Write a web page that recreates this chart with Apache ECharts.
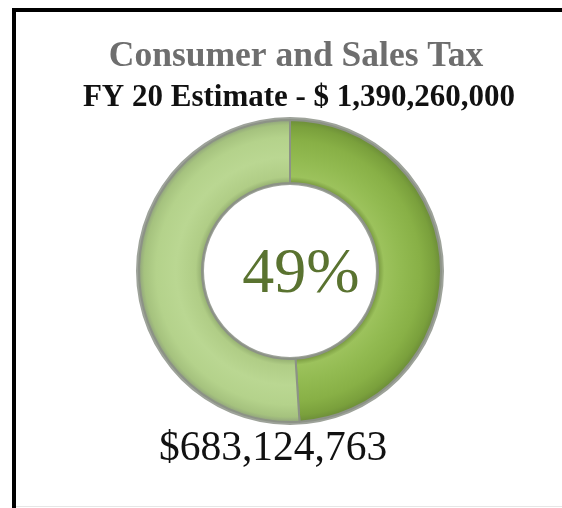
<!DOCTYPE html>
<html><head><meta charset="utf-8">
<script src="https://cdn.jsdelivr.net/npm/echarts@6/dist/echarts.min.js"></script>
<style>html,body{margin:0;padding:0;background:#fff}#c{width:562px;height:508px}</style>
</head><body><div id="c"></div>
<script>
const categories = ['Collected', 'Remaining'];
const shares = [49, 51];
const titleText = 'Consumer and Sales Tax';
const subtitleText = 'FY 20 Estimate - $ 1,390,260,000';
const centerText = '49%';
const amountText = '$683,124,763';

const cx = 290, cy = 271, rOut = 152, rIn = 88;
function ring(stops){
  return {type:'radial', x:cx, y:cy, r:rOut, global:true, colorStops:stops.map(s=>({offset:s[0], color:s[1]}))};
}
const darkFill = ring([[0,'#7d9f40'],[0.57,'#6f8f38'],[0.62,'#9cc25c'],[0.72,'#93bb52'],[0.86,'#88b046'],[0.95,'#7aa03c'],[1,'#6a8a38']]);
const lightFill = ring([[0,'#a5c37c'],[0.57,'#8ea86c'],[0.62,'#b0cd86'],[0.75,'#bad792'],[0.88,'#b4d28b'],[0.96,'#a5c27e'],[1,'#8d9e7c']]);

const chart = echarts.init(document.getElementById('c'), null, {renderer:'canvas'});
chart.setOption({
  animation:false,
  graphic:[
    {type:'rect', shape:{x:12,y:8,width:550,height:4}, style:{fill:'#000'}},
    {type:'rect', shape:{x:12,y:8,width:4,height:500}, style:{fill:'#000'}},
    {type:'rect', shape:{x:16,y:506,width:546,height:1}, style:{fill:'#e6e6e6'}},
    {type:'text', x:296, y:57, style:{text:titleText, font:'bold 35.5px "Liberation Serif"', fill:'#6e6e6e', align:'center', verticalAlign:'middle'}},
    {type:'text', x:299, y:98, style:{text:subtitleText, font:'bold 31px "Liberation Serif"', fill:'#111', align:'center', verticalAlign:'middle'}},
    {type:'text', x:301, y:275, style:{text:centerText, font:'64px "Liberation Serif"', fill:'#5a7330', align:'center', verticalAlign:'middle'}},
    {type:'text', x:273, y:449, style:{text:amountText, font:'41.5px "Liberation Serif"', fill:'#111', align:'center', verticalAlign:'middle'}}
  ],
  series:[
    {type:'pie', silent:true, center:[cx,cy], radius:[rIn-2, rOut+2], label:{show:false}, labelLine:{show:false},
     data:[{value:1, itemStyle:{color:'#9ea39a'}}]},
    {type:'pie', silent:true, center:[cx,cy], radius:[rIn, rOut-1], startAngle:90, clockwise:true,
     label:{show:false}, labelLine:{show:false},
     itemStyle:{borderColor:'#8c9286', borderWidth:2},
     data:[
       {name:categories[0], value:shares[0], itemStyle:{color:darkFill}},
       {name:categories[1], value:shares[1], itemStyle:{color:lightFill}}
     ]}
  ]
});
</script></body></html>
